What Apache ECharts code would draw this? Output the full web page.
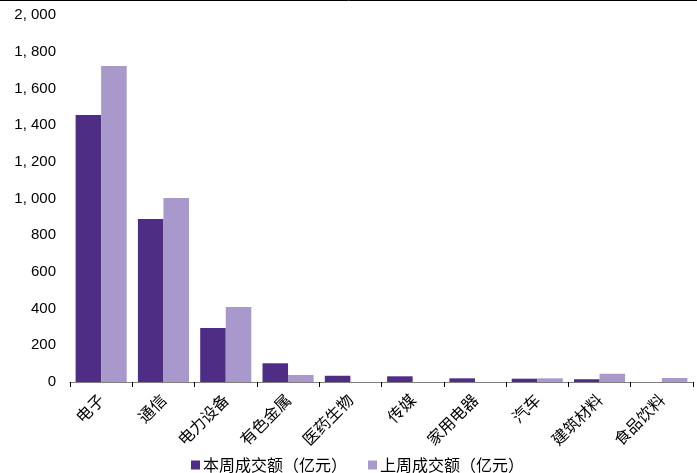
<!DOCTYPE html>
<html><head><meta charset="utf-8">
<script src="https://cdn.jsdelivr.net/npm/echarts@6/dist/echarts.min.js"></script>
<style>html,body{margin:0;padding:0;background:#fff}#c{width:697px;height:473px}</style>
</head><body><div id="c"></div>
<script>
const categories = ['电子','通信','电力设备','有色金属','医药生物','传媒','家用电器','汽车','建筑材料','食品饮料'];
const thisWeek = [1455, 888, 294, 102, 34, 31, 20, 18, 15, null];
const lastWeek = [1722, 1003, 409, 38, null, null, null, 20, 45, 22];
const seriesNames = ['本周成交额（亿元）','上周成交额（亿元）'];
const yTicks = {min: 0, max: 2000, interval: 200};

const chart = echarts.init(document.getElementById('c'));
chart.setOption({
  animation: false,
  grid: {left: 70, right: 4, top: 15, bottom: 91, containLabel: false},
  legend: {
    top: 452, left: 186, itemWidth: 9, itemHeight: 9, itemGap: 21, icon: 'rect',
    textStyle: {fontFamily: 'Noto Sans CJK SC', fontSize: 16, color: '#000', padding: [0, 0, 0, -2]},
    data: seriesNames
  },
  xAxis: {
    type: 'category', data: categories,
    axisLine: {lineStyle: {color: '#808080', width: 1}},
    axisTick: {show: true, alignWithLabel: false, length: 5, lineStyle: {color: '#000'}},
    axisLabel: {rotate: 45, interval: 0, fontFamily: 'Noto Sans CJK SC', fontSize: 16, color: '#000', margin: 15}
  },
  yAxis: {
    type: 'value', min: yTicks.min, max: yTicks.max, interval: yTicks.interval,
    axisLine: {show: false}, axisTick: {show: false}, splitLine: {show: false},
    axisLabel: {fontFamily: 'Liberation Sans', fontSize: 15, color: '#000', margin: 14,
      formatter: v => v >= 1000 ? Math.floor(v/1000) + ', ' + String(v % 1000).padStart(3,'0') : String(v)}
  },
  series: [
    {name: seriesNames[0], type: 'bar', data: thisWeek, barGap: '0%', barCategoryGap: '18%', itemStyle: {color: '#4e2d84'}},
    {name: seriesNames[1], type: 'bar', data: lastWeek, itemStyle: {color: '#a898cc'}}
  ],
  graphic: [{type: 'line', shape: {x1: 0, y1: 0.5, x2: 697, y2: 0.5}, style: {stroke: '#000', lineWidth: 1}}]
});
</script></body></html>
